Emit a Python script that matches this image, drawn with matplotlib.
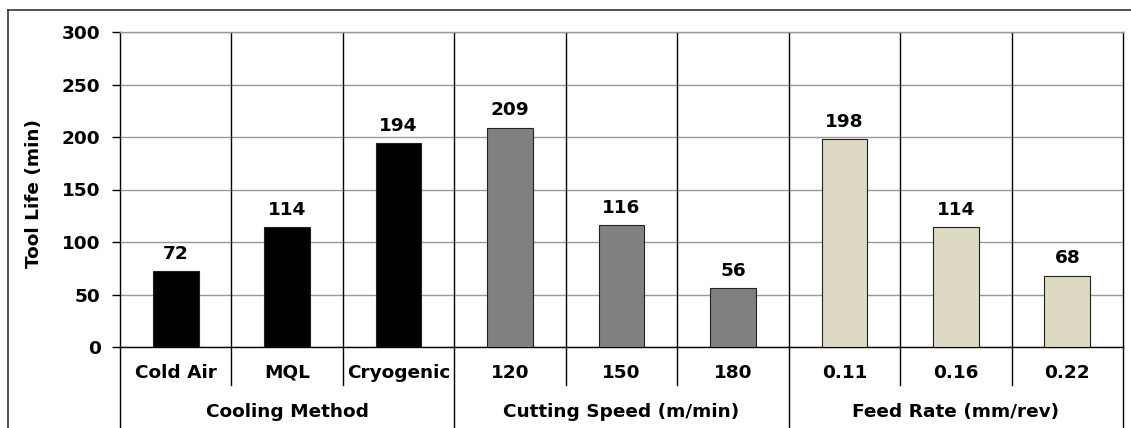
import matplotlib
matplotlib.use("Agg")
import matplotlib.pyplot as plt
from matplotlib.transforms import blended_transform_factory
from matplotlib.lines import Line2D

categories = ["Cold Air", "MQL", "Cryogenic", "120", "150", "180", "0.11", "0.16", "0.22"]
values = [72, 114, 194, 209, 116, 56, 198, 114, 68]
groups = ["Cooling Method", "Cutting Speed (m/min)", "Feed Rate (mm/rev)"]
group_sizes = [3, 3, 3]
group_colors = ["#000000", "#808080", "#DDD9C3"]
yticks = [0, 50, 100, 150, 200, 250, 300]

plt.rcParams['font.family'] = ['DejaVu Sans']
plt.rcParams['font.weight'] = 'bold'
FS = 13.3

W, H = 1131, 428
fig = plt.figure(figsize=(W / 100, H / 100), dpi=100)
left, right, top, bottom = 120, 1123, 32, 347
ax = fig.add_axes([left / W, (H - bottom) / H, (right - left) / W, (bottom - top) / H])

colors = []
for c, n in zip(group_colors, group_sizes):
    colors += [c] * n
x = list(range(len(categories)))
ax.bar(x, values, width=0.41, color=colors, edgecolor="#222222", linewidth=0.8, zorder=3)

tr = blended_transform_factory(ax.transData, fig.transFigure)
for xi, v in zip(x, values):
    ax.annotate(str(v), (xi, v), xytext=(0, 9), textcoords="offset points",
                ha="center", va="baseline", fontsize=FS, fontweight="bold")

ax.set_xlim(-0.5, len(categories) - 0.5)
ax.set_ylim(0, 300)
ax.set_yticks(yticks)
ax.set_yticklabels([str(t) for t in yticks], fontsize=FS, fontweight="bold")
ax.tick_params(axis="y", length=6, width=1, pad=8, color="black")
ax.set_xticks([])
ax.yaxis.grid(True, color="#999999", linewidth=1)
ax.set_axisbelow(True)
for b in range(1, len(categories)):
    ax.axvline(b - 0.5, color="black", linewidth=1, zorder=1)
ax.spines["top"].set_color("#999999")
for s in ["right", "left", "bottom"]:
    ax.spines[s].set_color("black")
for s in ax.spines.values():
    s.set_linewidth(1)

fig.text(34 / W, (H - 194) / H, "Tool Life (min)", rotation=90, ha="center", va="center",
         fontsize=FS, fontweight="bold")

y_axis = (H - bottom) / H
y_item = (H - 385) / H
y_cat = (H - 378) / H
y_grp = (H - 417) / H
for xi, c in enumerate(categories):
    ax.text(xi, y_cat, c, transform=tr, ha="center", va="baseline", fontsize=FS, fontweight="bold")

boundaries = [-0.5]
for n in group_sizes:
    boundaries.append(boundaries[-1] + n)
for b in range(len(categories) + 1):
    xb = b - 0.5
    is_group = xb in boundaries
    fig.add_artist(Line2D([xb, xb], [y_axis, 0 if is_group else y_item], transform=tr,
                          color="black", linewidth=1))
for gi, g in enumerate(groups):
    cx = (boundaries[gi] + boundaries[gi + 1]) / 2
    ax.text(cx, y_grp, g, transform=tr, ha="center", va="baseline", fontsize=FS, fontweight="bold")

# outer chart border
fig.add_artist(Line2D([8 / W, 1], [(H - 10) / H, (H - 10) / H], transform=fig.transFigure,
                      color="#333333", linewidth=1.2))
fig.add_artist(Line2D([8 / W, 8 / W], [0, (H - 10) / H], transform=fig.transFigure,
                      color="#333333", linewidth=1.2))

fig.savefig("out.png", dpi=100)
